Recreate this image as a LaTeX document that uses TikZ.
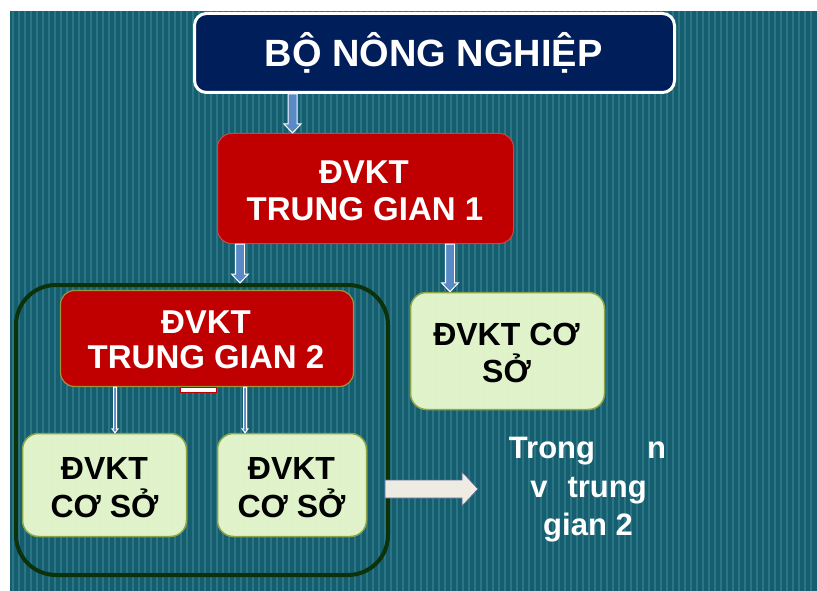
\documentclass[tikz,border=0pt]{standalone}
\usepackage{fontspec}
\setmainfont{Liberation Sans}
\usetikzlibrary{calc}
\definecolor{bgteal}{RGB}{21,94,111}
\definecolor{stripec}{RGB}{44,117,133}
\definecolor{navy}{RGB}{0,30,90}
\definecolor{boxred}{RGB}{192,0,0}
\definecolor{redline}{RGB}{205,70,70}
\definecolor{oliveline}{RGB}{150,150,60}
\definecolor{lgreen}{RGB}{234,250,206}
\definecolor{greenline}{RGB}{140,165,70}
\definecolor{frameg}{RGB}{12,50,12}
\definecolor{arrblue}{RGB}{90,138,198}
\definecolor{beige}{RGB}{238,235,226}
\definecolor{beigeline}{RGB}{90,100,150}
\newcommand\blockarr[5]{%
  \filldraw[arrowst] let \p1=#1, \p2=#2 in
    (\x1-#3,\y1) -- (\x1+#3,\y1) -- (\x1+#3,\y2+#5) -- (\x1+#4,\y2+#5) --
    (\x1,\y2) -- (\x1-#4,\y2+#5) -- (\x1-#3,\y2+#5) -- cycle;}
\begin{document}
\begin{tikzpicture}[x=1pt,y=-1pt,
  topbox/.style={fill=navy,draw=white,line width=3pt,rounded corners=12pt,inner sep=0pt},
  redbox/.style={fill=boxred,rounded corners=14pt,inner sep=0pt},
  greenbox/.style={fill=lgreen,fill opacity=0.95,draw=greenline,line width=1.5pt,rounded corners=16pt,inner sep=0pt},
  wtext/.style={anchor=base,text=white,inner sep=0pt,font=\bfseries\fontsize{33}{33}\selectfont},
  btext/.style={anchor=base,text=black,inner sep=0pt,font=\bfseries\fontsize{32}{32}\selectfont},
  rtext/.style={anchor=base,text=white,inner sep=0pt,font=\bfseries\fontsize{31}{31}\selectfont},
  arrowst/.style={fill=arrblue,draw=white,line width=1pt},
]
\useasboundingbox (0,0) rectangle (817,591);
\fill[white] (0,0) rectangle (817,591);
\fill[bgteal] (10,11) rectangle (817,591);
\foreach \x in {13,19,...,811} \draw[stripec,line width=1.1pt] (\x,11) -- (\x,591);

% boxes
\node[topbox,minimum width=480,minimum height=79] (bo) at (434.5,53) {};
\node[anchor=base,text=white,inner sep=0pt,font=\bfseries\fontsize{38}{38}\selectfont] (bot) at (433.5,67) {BỘ NÔNG NGHIỆP};

\node[redbox,draw=redline,line width=1pt,minimum width=296,minimum height=110] (tg1) at (365.5,188.5) {};
\node[wtext] (tg1a) at (364,183) {ĐVKT};
\node[wtext] (tg1b) at (365,220) {TRUNG GIAN 1};

\node[draw=frameg,line width=4pt,rounded corners=40pt,minimum width=372,minimum height=290,inner sep=0pt] (frame) at (202,430) {};

\node[redbox,draw=oliveline,line width=1.2pt,minimum width=293,minimum height=96] (tg2) at (207,338.5) {};
\node[wtext] (tg2a) at (206,333) {ĐVKT};
\node[wtext] (tg2b) at (206,368) {TRUNG GIAN 2};
\node[draw=boxred,fill=white,line width=1pt,minimum width=36,minimum height=5,inner sep=0pt] (tab) at (198.5,389.5) {};

\node[greenbox,minimum width=194,minimum height=117] (csr) at (507.5,351) {};
\node[btext] (csra) at (506.5,345) {ĐVKT CƠ};
\node[btext] (csrb) at (506.5,382) {SỞ};

\node[greenbox,minimum width=164,minimum height=103] (csl) at (104.5,485) {};
\node[btext] (csla) at (104.5,479) {ĐVKT};
\node[btext] (cslb) at (104.5,517) {CƠ SỞ};

\node[greenbox,minimum width=149,minimum height=103] (csm) at (292,485) {};
\node[btext] (csma) at (291.5,479) {ĐVKT};
\node[btext] (csmb) at (291.5,517) {CƠ SỞ};

% arrow x positions
\coordinate (x1) at (292.5,0);
\coordinate (x2) at (240,0);
\coordinate (x3) at (450,0);
\coordinate (x4) at (115,0);
\coordinate (x5) at (245,0);

\blockarr{(bo.south -| x1)}{(tg1.north -| x1)}{4.5pt}{8.5pt}{9pt}
\blockarr{(tg1.south -| x2)}{(frame.north -| x2)}{4.5pt}{8.5pt}{9pt}
\blockarr{(tg1.south -| x3)}{(csr.north -| x3)}{4.5pt}{8.5pt}{9pt}
\blockarr{(tg2.south -| x4)}{(csl.north -| x4)}{1.5pt}{3pt}{4pt}
\blockarr{(tg2.south -| x5)}{(csm.north -| x5)}{1.5pt}{3pt}{4pt}

% big arrow
\coordinate (bigtip) at (478,489);
\filldraw[fill=beige,draw=beigeline,line width=0.6pt]
  let \p1=($(frame.east |- bigtip)+(-5,0)$), \p2=(bigtip) in
  (\x1,\y1-9pt) -- (\x2-16pt,\y1-9pt) -- (\x2-16pt,\y1-17pt) -- (\x2,\y2) --
  (\x2-16pt,\y1+17pt) -- (\x2-16pt,\y1+9pt) -- (\x1,\y1+9pt) -- cycle;

% right text
\node[rtext] (t1) at (587.5,458) {Trong\hspace*{52pt}n};
\node[rtext] (t2) at (588.5,497) {v\hspace*{20pt}trung};
\node[rtext] (t3) at (588,535) {gian 2};
\end{tikzpicture}
\end{document}
